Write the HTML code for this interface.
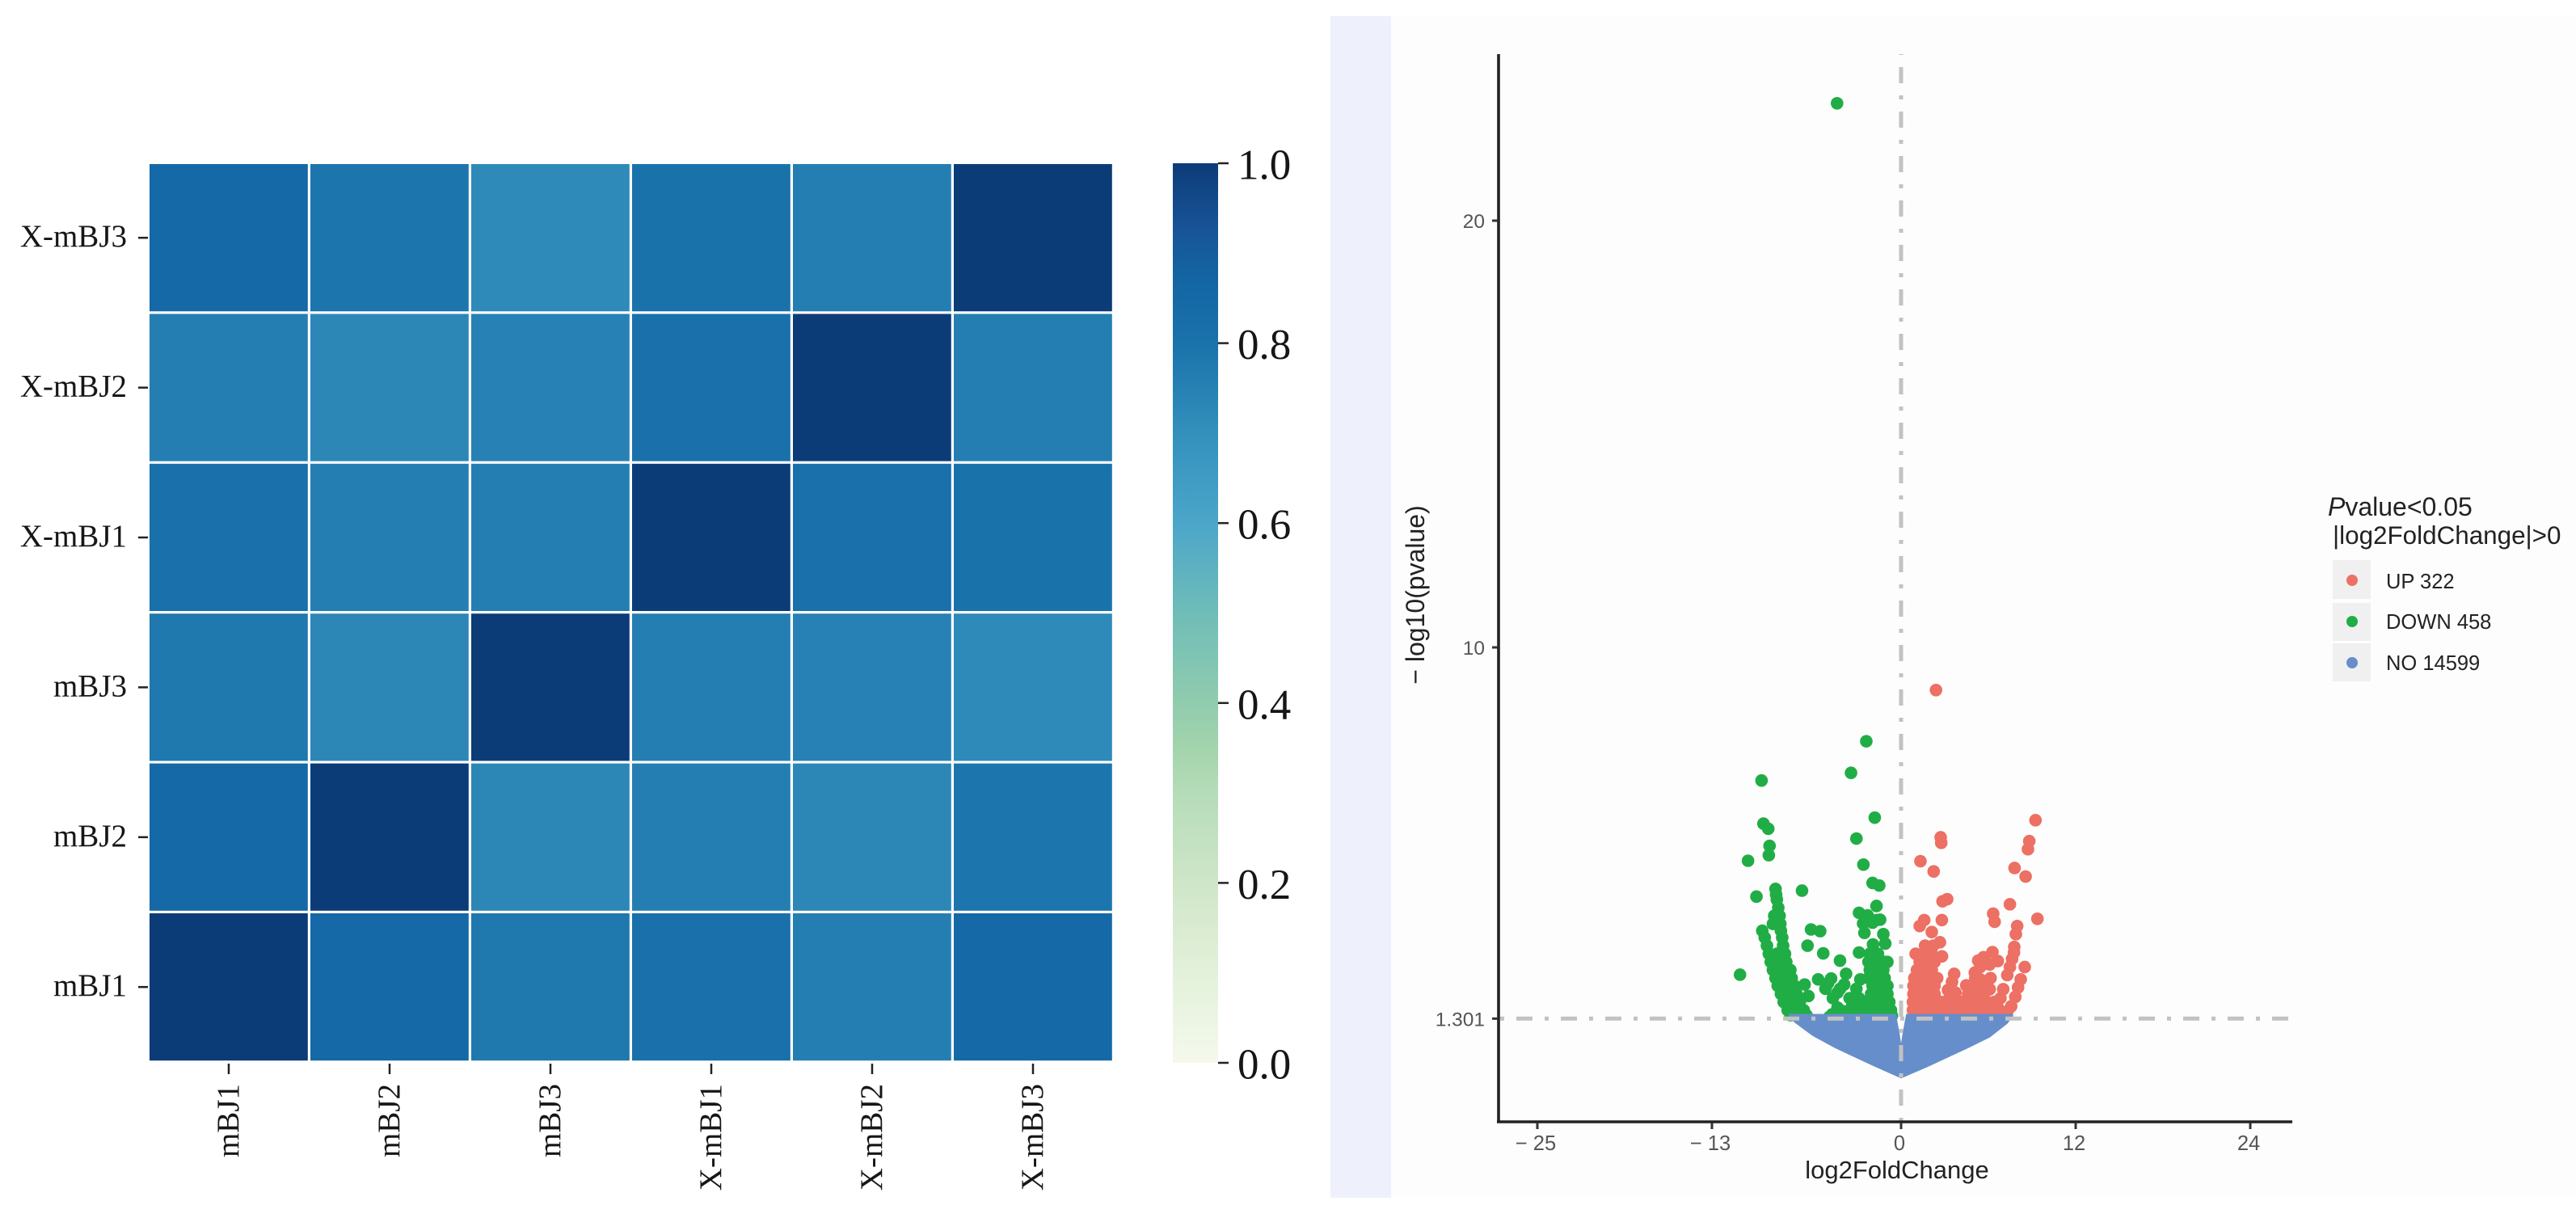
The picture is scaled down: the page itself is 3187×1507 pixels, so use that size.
<!DOCTYPE html>
<html lang="en">
<head>
<meta charset="utf-8">
<title>Correlation heatmap and volcano plot</title>
<style>
html,body{margin:0;padding:0;background:#fff;}
svg{display:block;}
.serif{font-family:"Liberation Serif",serif;fill:#161616;}
.sans{font-family:"Liberation Sans",sans-serif;}
</style>
</head>
<body>
<svg id="figure" xmlns="http://www.w3.org/2000/svg" width="3187" height="1507" viewBox="0 0 3187 1507">
  <defs>
    <linearGradient id="gnbu" x1="0" y1="1" x2="0" y2="0"></linearGradient>
  </defs>
  <rect x="0" y="0" width="3187" height="1507" fill="#ffffff"/>
  <rect x="1646" y="20" width="75" height="1462" fill="#eef1fb"/>
  <rect x="1721" y="20" width="1466" height="1460" fill="#fdfdfd"/>
  <g id="heatmap"></g>
  <g id="colorbar"></g>
  <g id="volcano"></g>
  <g id="legend">
    <text class="sans" x="2880" y="638" font-size="32" fill="#222"><tspan font-style="italic">P</tspan>value&lt;0.05</text>
    <text class="sans" x="2886" y="673" font-size="31.4" fill="#222">|log2FoldChange|&gt;0</text>
    <rect x="2886" y="693" width="47" height="48" fill="#f0f0f0"/>
    <rect x="2886" y="746" width="47" height="47" fill="#f0f0f0"/>
    <rect x="2886" y="796" width="47" height="47" fill="#f0f0f0"/>
    <circle cx="2910" cy="718" r="7" fill="#ec7063"/>
    <circle cx="2910" cy="769" r="7" fill="#21ad45"/>
    <circle cx="2910" cy="820" r="7" fill="#668ecb"/>
    <text class="sans" x="2952" y="728" font-size="25.5" fill="#222">UP 322</text>
    <text class="sans" x="2952" y="778" font-size="25.5" fill="#222">DOWN 458</text>
    <text class="sans" x="2952" y="829" font-size="25.5" fill="#222">NO 14599</text>
  </g>
</svg>
<script>
// ---------- heatmap data ----------
const sampleNames = ['mBJ1','mBJ2','mBJ3','X-mBJ1','X-mBJ2','X-mBJ3'];
const rowNamesTopDown = ['X-mBJ3','X-mBJ2','X-mBJ1','mBJ3','mBJ2','mBJ1'];
const correlationRows = [
  [0.85,0.79,0.72,0.80,0.76,1.00],
  [0.76,0.73,0.75,0.81,1.00,0.76],
  [0.81,0.76,0.76,1.00,0.81,0.80],
  [0.78,0.73,1.00,0.76,0.75,0.72],
  [0.85,1.00,0.73,0.76,0.73,0.79],
  [1.00,0.85,0.78,0.81,0.76,0.85]
];
const colorbarTicks = [0,0.2,0.4,0.6,0.8,1];
const colorbarTickLabels = ['0.0','0.2','0.4','0.6','0.8','1.0'];
const scaleStops = [0,0.1,0.2,0.3,0.35,0.4,0.5,0.6,0.7,0.8,0.87,0.93,1];
const scaleColors = ['#f4f9ec','#e3f1da','#cfe6c8','#b5dcb8','#a3d4ac','#90ccae','#6fbdb8','#4ba6c9','#3390bc','#1a72ab','#1366a4','#185396','#0c3c78'];

// ---------- volcano data: [log2FoldChange, -log10(pvalue)] ----------
const xTickValues = [-25,-13,0,12,24];
const xTickLabels = ['\u2212 25','\u2212 13','0','12','24'];
const yTickValues = [1.301,10,20];
const yTickLabels = ['1.301','10','20'];
const downPoints = [
[-4.4,22.75],[-2.39,7.8],[-3.44,7.06],[-9.59,6.88],[-9.46,5.87],[-9.13,5.75],[-9.04,5.35],[-9.09,5.13],[-10.52,5.0],
[-1.81,6.01],[-3.07,5.52],[-2.59,4.91],[-1.96,4.48],[-1.5,4.42],[-9.94,4.16],[-6.81,4.3],[-1.69,3.94],[-2.89,3.78],
[-2.3,3.72],[-2.61,3.53],[-1.44,3.62],[-1.96,3.55],[-1.69,3.61],[-2.52,3.31],[-1.22,3.28],[-1.09,3.06],[-6.19,3.39],
[-5.56,3.35],[-6.43,3.01],[-5.35,2.83],[-1.93,3.04],[-2.89,2.85],[-4.2,2.66],[-11.07,2.33],[-6.63,2.1],[-6.37,1.83],
[-5.7,2.22],[-4.81,2.24],[-5.2,2.0],[-5.02,2.13],[-3.78,2.35],[-3.91,2.1],[-4.19,2.0],[-4.37,1.91],[-4.69,1.78],
[-3.07,2.0],[-3.54,1.78],[-2.89,1.78],[-3.35,1.62],[-2.8,2.22],[-4.37,1.56],[-3.91,1.47],[-4.74,1.4],[-4.93,1.34],[-4.19,1.5],
[-8.63,4.34],[-8.59,4.21],[-8.54,4.09],[-8.44,3.9],[-8.72,3.71],[-8.35,3.71],[-8.81,3.52],[-8.3,3.52],[-9.54,3.36],[-8.26,3.36],
[-9.37,3.2],[-8.17,3.2],[-9.22,3.01],[-8.11,3.01],[-9.09,2.82],[-8.54,2.82],[-7.98,2.82],[-8.96,2.63],[-8.44,2.63],[-7.89,2.63],
[-8.81,2.44],[-8.26,2.44],[-7.61,2.44],[-8.63,2.25],[-8.07,2.25],[-7.52,2.25],[-8.48,2.07],[-7.89,2.07],[-7.33,2.07],
[-8.26,1.88],[-7.7,1.88],[-7.19,1.88],[-8.07,1.69],[-7.52,1.69],[-6.96,1.69],[-7.8,1.5],[-7.24,1.5],[-6.69,1.5],[-7.6,1.38],[-7.0,1.38],[-6.5,1.38],
[-2.15,2.82],[-1.59,2.82],[-2.24,2.63],[-1.69,2.63],[-1.13,2.63],[-0.94,2.63],[-2.15,2.44],[-1.69,2.44],[-1.22,2.44],
[-2.24,2.25],[-1.69,2.25],[-1.13,2.25],[-1.96,2.07],[-1.41,2.07],[-0.94,2.07],[-2.06,1.88],[-1.5,1.88],[-0.94,1.88],
[-2.52,1.69],[-1.96,1.69],[-1.41,1.69],[-0.81,1.69],[-2.89,1.5],[-2.33,1.5],[-1.78,1.5],[-1.22,1.5],[-0.7,1.5],
[-3.26,1.37],[-2.7,1.37],[-2.15,1.37],[-1.59,1.37],[-1.04,1.37],[-0.63,1.37]
];
const upPoints = [
[2.4,9.0],[9.24,5.95],[8.81,5.46],[8.72,5.27],[2.72,5.55],[2.76,5.42],[1.33,4.99],[2.24,4.75],[7.8,4.83],[8.56,4.63],
[3.17,4.1],[2.85,4.05],[7.48,3.98],[1.59,3.61],[1.28,3.47],[2.8,3.61],[6.33,3.76],[6.43,3.57],[9.37,3.64],[7.98,3.47],
[7.89,3.28],[2.11,3.33],[2.67,3.09],[1.0,2.82],[2.81,2.76],[6.28,2.86],[7.78,2.98],[7.76,2.85],[8.5,2.51],[6.65,2.65],
[5.3,2.66],[5.67,2.74],[6.09,2.57],[7.63,2.7],[7.48,2.51],[7.3,2.32],[3.65,2.35],[3.5,2.16],[5.44,2.51],[5.07,2.38],
[5.44,2.22],[4.48,2.08],[6.09,1.99],[7.02,1.99],[8.22,2.22],[8.04,2.03],[7.85,1.81],[7.57,1.59],[7.3,1.47],[6.83,1.78],
[6.65,1.56],[3.22,1.97],[3.74,1.91],[3.31,1.78],
[1.65,3.01],[2.2,3.01],[1.56,2.82],[2.11,2.82],[1.28,2.63],[1.74,2.63],[2.3,2.63],[1.09,2.44],[1.56,2.44],[2.11,2.44],
[0.91,2.25],[1.37,2.25],[1.93,2.25],[2.48,2.25],[0.85,2.07],[1.28,2.07],[1.83,2.07],[2.3,2.07],[0.85,1.88],[1.18,1.88],[1.74,1.88],[2.3,1.88],
[0.81,1.69],[1.09,1.69],[1.65,1.69],[2.2,1.69],[2.76,1.69],[0.81,1.5],[1.0,1.5],[1.56,1.5],[2.11,1.5],[2.67,1.5],[3.04,1.5],
[4.52,2.07],[5.07,2.07],[5.63,2.07],[4.61,1.88],[5.17,1.88],[5.72,1.88],[4.15,1.69],[4.7,1.69],[5.26,1.69],[5.81,1.69],[6.37,1.69],
[3.69,1.45],[4.24,1.45],[4.8,1.45],[5.35,1.45],[5.91,1.45],[6.46,1.45],[7.02,1.45],[3.4,1.6],[3.9,1.62],[6.15,2.25],[5.1,2.25]
];
const noUpperEdge = [[-7.72,1.41],[-0.35,1.41],[-0.1,0.95],[0,0.72],[0.1,0.95],[0.35,1.41],[7.7,1.41]];
const noLowerEdge = [[7.7,1.36],[7.3,1.18],[6.1,0.86],[4.55,0.6],[1.78,0.16],[0,-0.1],[-1.78,0.17],[-4.55,0.61],[-6.1,0.9],[-7.33,1.21],[-7.72,1.36]];

// ---------- helpers ----------
const NS = 'http://www.w3.org/2000/svg';
function mk(parent, tag, attrs, txt) {
  const el = document.createElementNS(NS, tag);
  for (const k in attrs) el.setAttribute(k, attrs[k]);
  if (txt !== undefined) el.textContent = txt;
  parent.appendChild(el);
  return el;
}
function hexToRgb(h){return [1,3,5].map(i=>parseInt(h.substr(i,2),16));}
function colorFor(v){
  let i=0;
  while(i<scaleStops.length-2 && v>scaleStops[i+1]) i++;
  const t=(v-scaleStops[i])/(scaleStops[i+1]-scaleStops[i]);
  const a=hexToRgb(scaleColors[i]), b=hexToRgb(scaleColors[i+1]);
  return 'rgb('+a.map((c,j)=>Math.round(c+(b[j]-c)*t)).join(',')+')';
}

// ---------- heatmap ----------
const hm = document.getElementById('heatmap');
const hmLeft=185, hmTop=203, colStep=199, rowStep=185.4;
const colX = i => hmLeft + i*colStep;
const rowY = i => hmTop + i*rowStep;
correlationRows.forEach((row,r)=>{
  row.forEach((v,c)=>{
    const cell = mk(hm,'rect',{x:colX(c),y:rowY(r),width:colStep-3.2,height:rowStep-3.2,fill:colorFor(v)});
    
    
  });
});
rowNamesTopDown.forEach((name,r)=>{
  const y=rowY(r)+rowStep/2-1.5;
  const tick=mk(hm,'line',{x1:171,x2:183,y1:y,y2:y,stroke:'#222','stroke-width':2.5});
  
  
  const lab=mk(hm,'text',{x:157,y:y+11,'text-anchor':'end','font-size':39,class:'serif'},name);
  
  
});
sampleNames.forEach((name,c)=>{
  const x=colX(c)+colStep/2-1.5;
  const tick=mk(hm,'line',{x1:x,x2:x,y1:1316,y2:1329,stroke:'#222','stroke-width':2.5});
  
  
  const lab=mk(hm,'text',{transform:'translate('+(x+12)+',1341) rotate(-90)','text-anchor':'end','font-size':39,class:'serif'},name);
  
  
});

// ---------- colorbar ----------
const grad=document.getElementById('gnbu');
scaleStops.forEach((s,i)=>{mk(grad,'stop',{offset:s,'stop-color':scaleColors[i]});});
const cb=document.getElementById('colorbar');
const cbTop=202, cbBottom=1315;
const cbY=v=>cbBottom-(cbBottom-cbTop)*v;
const cbRect=mk(cb,'rect',{x:1451,y:cbTop,width:56,height:cbBottom-cbTop,fill:'url(#gnbu)'});


colorbarTicks.forEach((v,i)=>{
  const tick=mk(cb,'line',{x1:1507,x2:1520,y1:cbY(v),y2:cbY(v),stroke:'#222','stroke-width':2.5});
  
  
  const lab=mk(cb,'text',{x:1531,y:cbY(v)+19.5,'font-size':53,class:'serif'},colorbarTickLabels[i]);
  
  
});

// ---------- volcano ----------
const vp=document.getElementById('volcano');
const sx=v=>2352+18*v;
const sy=v=>1329-52.8*v;
function drawDots(points,color,name){
  points.forEach(p=>{
    const dot=mk(vp,'circle',{cx:sx(p[0]),cy:sy(p[1]),r:7.8,fill:color});
    
    
  });
}
drawDots(downPoints,'#21ad45','down-point');
drawDots(upPoints,'#ec7063','up-point');
const noShape=mk(vp,'polygon',{points:noUpperEdge.concat(noLowerEdge).map(p=>sx(p[0])+','+sy(p[1])).join(' '),fill:'#668ecb'});



const hLine=mk(vp,'line',{x1:1854,x2:2836,y1:sy(1.301),y2:sy(1.301),stroke:'#c2c2c2','stroke-width':5,'stroke-dasharray':'20 15 5 15','stroke-dashoffset':33});


const vLine=mk(vp,'line',{x1:sx(0),x2:sx(0),y1:67,y2:1388,stroke:'#c2c2c2','stroke-width':5,'stroke-dasharray':'20 15 5 15','stroke-dashoffset':39});



const yAxis=mk(vp,'line',{x1:1854,x2:1854,y1:67,y2:1389.5,stroke:'#222','stroke-width':3.6});


const xAxis=mk(vp,'line',{x1:1852,x2:2836,y1:1388,y2:1388,stroke:'#222','stroke-width':3.6});



xTickValues.forEach((v,i)=>{
  const tick=mk(vp,'line',{x1:sx(v),x2:sx(v),y1:1389,y2:1397,stroke:'#333','stroke-width':3});
  
  
  const lab=mk(vp,'text',{x:sx(v)-2,y:1423,'text-anchor':'middle','font-size':25.5,fill:'#555',class:'sans'},xTickLabels[i]);
  
  
});
yTickValues.forEach((v,i)=>{
  const tick=mk(vp,'line',{x1:1846,x2:1853,y1:sy(v),y2:sy(v),stroke:'#333','stroke-width':3});
  
  
  const lab=mk(vp,'text',{x:1837,y:sy(v)+9,'text-anchor':'end','font-size':24.5,fill:'#555',class:'sans'},yTickLabels[i]);
  
  
});
const xTitle=mk(vp,'text',{x:2347,y:1458,'text-anchor':'middle','font-size':31,fill:'#222',class:'sans'},'log2FoldChange');


const yTitle=mk(vp,'text',{transform:'translate(1762,736) rotate(-90)','text-anchor':'middle','font-size':32,fill:'#222',class:'sans'},'\u2212 log10(pvalue)');


</script>
</body>
</html>
